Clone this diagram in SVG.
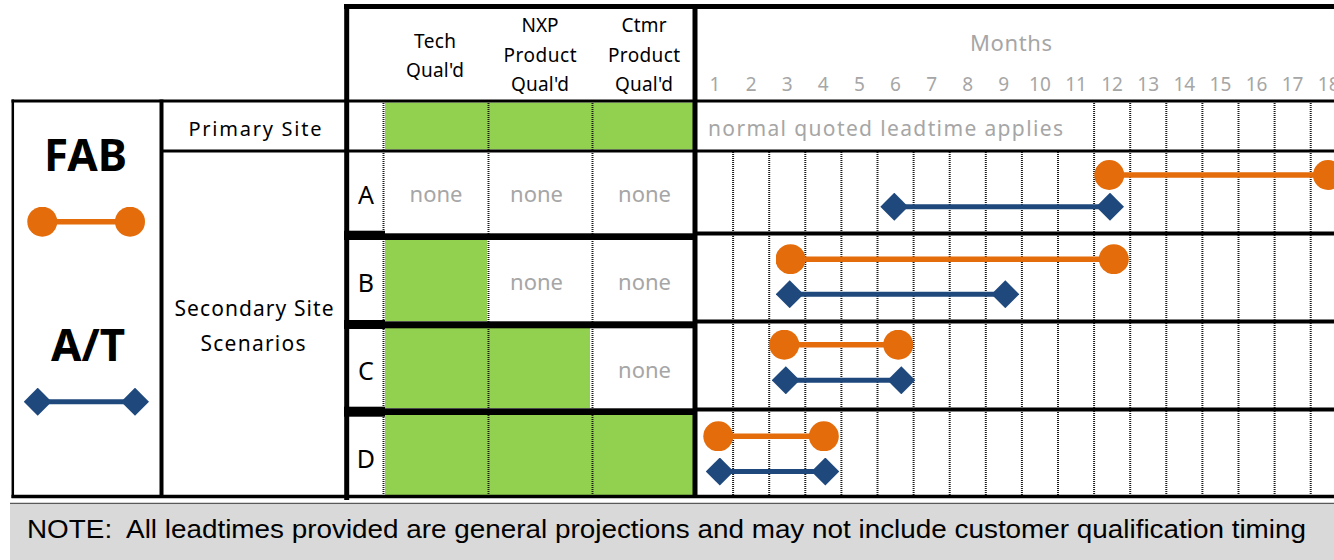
<svg xmlns="http://www.w3.org/2000/svg" width="1334" height="560" viewBox="0 0 1334 560">
<defs>
<style>
text{font-family:"Noto Sans","DejaVu Sans",sans-serif}
.lbl{font-size:19px;fill:#000;text-anchor:middle}
.num{font-size:19px;fill:#a6a6a6;text-anchor:middle}
.none{font-size:22px;fill:#a6a6a6;text-anchor:middle}
.letter{font-size:25px;fill:#000;text-anchor:middle}
.big{font-size:44px;font-weight:bold;fill:#000;text-anchor:middle}
.note{font-family:"Liberation Sans Narrow","Liberation Sans",Arial,sans-serif;font-size:26px;fill:#000}
.grid{stroke:#1a1a1a;stroke-width:2;stroke-dasharray:1 1;fill:none}
.g{fill:#92d050}
.rule{stroke:#000;fill:none}
.bar{fill:#000}
.fab{stroke:#e46c0a;stroke-width:5.5;fill:none;marker-start:url(#dot);marker-end:url(#dot)}
.at{stroke:#1f497d;stroke-width:5;fill:none;marker-start:url(#dia);marker-end:url(#dia)}
</style>
<marker id="dot" viewBox="-15 -15 30 30" markerWidth="30" markerHeight="30" markerUnits="userSpaceOnUse" refX="0" refY="0"><circle r="15" fill="#e46c0a"/></marker>
<marker id="dia" viewBox="-14 -14 28 28" markerWidth="28" markerHeight="28" markerUnits="userSpaceOnUse" refX="0" refY="0"><path d="M0-14L14 0 0 14-14 0Z" fill="#1f497d"/></marker>
</defs>
<rect width="1334" height="560" fill="#fff"/>

<g id="fills">
<rect class="g" x="385" y="102.5" width="308" height="47"/>
<rect class="g" x="385" y="240" width="102" height="81"/>
<rect class="g" x="385" y="328" width="205" height="80"/>
<rect class="g" x="385" y="415" width="308" height="80"/>
</g>

<g id="grid">
<path class="grid" d="M383.5 101V496M488.5 101V496M592.5 101V496"/>
<path class="grid" d="M733.1 152V495M769.2 152V495M805.3 152V495M841.4 152V495M877.5 152V495M913.6 152V495M949.7 152V495M985.8 152V495M1021.9 152V495M1058 152V495M1094.1 101V495M1130.2 101V495M1166.3 101V495M1202.4 101V495M1238.5 101V495M1274.6 101V495M1310.7 101V495"/>
</g>

<g id="rules">
<line class="rule" x1="344" y1="6.5" x2="1334" y2="6.5" stroke-width="5"/>
<line class="rule" x1="11.5" y1="101" x2="1334" y2="101" stroke-width="3"/>
<line class="rule" x1="161" y1="151" x2="1334" y2="151" stroke-width="3"/>
<line class="rule" x1="11.5" y1="496.5" x2="1334" y2="496.5" stroke-width="3.5"/>
<line class="rule" x1="12.8" y1="99.5" x2="12.8" y2="498" stroke-width="2.5"/>
<line class="rule" x1="161.5" y1="99.5" x2="161.5" y2="498" stroke-width="4"/>
<line class="rule" x1="346.7" y1="4" x2="346.7" y2="500" stroke-width="5"/>
<line class="rule" x1="695" y1="4" x2="695" y2="498" stroke-width="5"/>
<rect class="bar" x="344" y="230.7" width="41" height="9.3"/>
<rect class="bar" x="385" y="233.3" width="310" height="6.7"/>
<rect class="bar" x="695" y="231.5" width="639" height="4"/>
<rect class="bar" x="344" y="320" width="41" height="9"/>
<rect class="bar" x="385" y="321.3" width="310" height="7"/>
<rect class="bar" x="695" y="319.5" width="639" height="4"/>
<rect class="bar" x="344" y="406.7" width="41" height="10"/>
<rect class="bar" x="385" y="408.3" width="310" height="6.7"/>
<rect class="bar" x="695" y="407.5" width="639" height="4"/>
</g>

<g id="header">
<text class="lbl" x="435" y="48" textLength="42">Tech</text>
<text class="lbl" x="435" y="77" textLength="58">Qual'd</text>
<text class="lbl" x="540" y="32" textLength="37">NXP</text>
<text class="lbl" x="540" y="62" textLength="73">Product</text>
<text class="lbl" x="540" y="90.5" textLength="58">Qual'd</text>
<text class="lbl" x="644" y="32" textLength="45">Ctmr</text>
<text class="lbl" x="644" y="62" textLength="72">Product</text>
<text class="lbl" x="644" y="90.5" textLength="58">Qual'd</text>
<text x="1011" y="51" font-size="22" fill="#a6a6a6" text-anchor="middle" textLength="82">Months</text>
<text class="num" x="715" y="91">1</text>
<text class="num" x="751.1" y="91">2</text>
<text class="num" x="787.2" y="91">3</text>
<text class="num" x="823.3" y="91">4</text>
<text class="num" x="859.4" y="91">5</text>
<text class="num" x="895.5" y="91">6</text>
<text class="num" x="931.6" y="91">7</text>
<text class="num" x="967.7" y="91">8</text>
<text class="num" x="1003.8" y="91">9</text>
<text class="num" x="1039.9" y="91">10</text>
<text class="num" x="1076" y="91">11</text>
<text class="num" x="1112.1" y="91">12</text>
<text class="num" x="1148.2" y="91">13</text>
<text class="num" x="1184.3" y="91">14</text>
<text class="num" x="1220.4" y="91">15</text>
<text class="num" x="1256.5" y="91">16</text>
<text class="num" x="1292.6" y="91">17</text>
<text class="num" x="1328.7" y="91">18</text>
</g>

<g id="legend">
<text class="big" x="85.5" y="171">FAB</text>
<line class="fab" x1="42.3" y1="221.7" x2="130" y2="221.7"/>
<text class="big" x="88" y="361">A/T</text>
<line class="at" x1="37.7" y1="401.7" x2="135" y2="401.7"/>
</g>

<g id="row-primary">
<text x="255" y="135.5" font-size="20" text-anchor="middle" textLength="133">Primary Site</text>
<text x="708" y="135.5" font-size="21" fill="#a6a6a6" textLength="355">normal quoted leadtime applies</text>
</g>

<g id="row-secondary">
<text x="254" y="316" font-size="21" text-anchor="middle" textLength="159">Secondary Site</text>
<text x="253" y="351" font-size="21" text-anchor="middle" textLength="105">Scenarios</text>
</g>

<g id="row-A">
<text class="letter" x="366" y="204">A</text>
<text class="none" x="436" y="201.5" textLength="53">none</text>
<text class="none" x="536.5" y="201.5" textLength="53">none</text>
<text class="none" x="644.5" y="201.5" textLength="53">none</text>
</g>
<g id="row-B">
<text class="letter" x="366" y="292">B</text>
<text class="none" x="536.5" y="290" textLength="53">none</text>
<text class="none" x="644.5" y="290" textLength="53">none</text>
</g>
<g id="row-C">
<text class="letter" x="366" y="380">C</text>
<text class="none" x="644.5" y="378" textLength="53">none</text>
</g>
<g id="row-D">
<text class="letter" x="366" y="468">D</text>
</g>

<g id="connectors">
<line class="fab" x1="1109.3" y1="175" x2="1328" y2="175"/>
<line class="at" x1="894.3" y1="206.7" x2="1110" y2="206.7"/>
<line class="fab" x1="790.5" y1="259.2" x2="1113.8" y2="259.2"/>
<line class="at" x1="789.7" y1="294.2" x2="1005.3" y2="294.2"/>
<line class="fab" x1="784.3" y1="344.7" x2="898.3" y2="344.7"/>
<line class="at" x1="785.8" y1="380.3" x2="901.3" y2="380.3"/>
<line class="fab" x1="718.3" y1="436.3" x2="823.8" y2="436.3"/>
<line class="at" x1="719.8" y1="471.5" x2="825.3" y2="471.5"/>
</g>

<g id="note">
<line x1="10" y1="503.5" x2="1334" y2="503.5" stroke="#595959" stroke-width="1.5"/>
<rect x="10" y="504.5" width="1324" height="56" fill="#d9d9d9"/>
<text class="note" x="27" y="538" xml:space="preserve" textLength="1279" lengthAdjust="spacingAndGlyphs">NOTE:  All leadtimes provided are general projections and may not include customer qualification timing</text>
</g>
</svg>
